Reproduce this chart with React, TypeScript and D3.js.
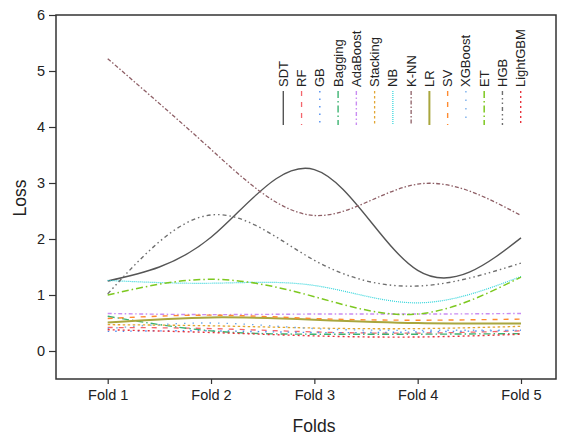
import React, { useEffect, useRef } from "react";
import * as d3 from "d3";

const folds = ["Fold 1", "Fold 2", "Fold 3", "Fold 4", "Fold 5"];
const yTicks = [0, 1, 2, 3, 4, 5, 6];

const models = ["SDT", "RF", "GB", "Bagging", "AdaBoost", "Stacking", "NB", "K-NN", "LR", "SV", "XGBoost", "ET", "HGB", "LightGBM"];

const SDT = [1.25, 2.03, 3.24, 1.44, 2.02];
const RF = [0.42, 0.4, 0.34, 0.32, 0.36];
const GB = [0.35, 0.36, 0.33, 0.34, 0.37];
const Bagging = [0.62, 0.36, 0.3, 0.3, 0.31];
const AdaBoost = [0.67, 0.65, 0.66, 0.66, 0.67];
const Stacking = [0.47, 0.45, 0.41, 0.4, 0.44];
const NB = [1.26, 1.21, 1.17, 0.86, 1.33];
const KNN = [5.22, 3.6, 2.42, 2.98, 2.42];
const LR = [0.51, 0.6, 0.56, 0.5, 0.49];
const SV = [0.58, 0.64, 0.58, 0.55, 0.57];
const XGBoost = [0.4, 0.5, 0.4, 0.37, 0.37];
const ET = [1.0, 1.28, 0.97, 0.66, 1.32];
const HGB = [1.02, 2.43, 1.62, 1.16, 1.57];
const LightGBM = [0.38, 0.33, 0.27, 0.25, 0.3];

const seriesValues = [SDT, RF, GB, Bagging, AdaBoost, Stacking, NB, KNN, LR, SV, XGBoost, ET, HGB, LightGBM];

const colors = ["#555555", "#F4656C", "#4F8DF0", "#3CB371", "#C98CF2", "#E2A631", "#2FD4DA", "#8E5F66", "#A9A63E", "#FF8A30", "#6EA8EA", "#7DC820", "#6E6E6E", "#E8323C"];
const dashes = ["", "5,6", "1.5,6", "7,3,1.5,3", "4,2.5,1.5,2.5", "2.5,2.5", "1,1", "4,2,1.5,2", "", "5,6", "1.5,7", "7,3,1.5,3", "4,3,1.5,3,1.5,3", "2,3"];
const widths = [1.4, 1.3, 1.4, 1.4, 1.4, 1.3, 1.2, 1.3, 2.0, 1.4, 1.3, 1.5, 1.4, 1.4];

export default function App() {
  const ref = useRef<SVGSVGElement>(null);

  useEffect(() => {
    const svg = d3.select(ref.current);
    svg.selectAll("*").remove();
    const left = 56, right = 556, top = 15, bottom = 379;
    const x = d3.scalePoint<string>().domain(folds).range([107.7, 521]);
    const y = d3.scaleLinear().domain([-0.5, 6]).range([bottom, top]);
    const font = "'Liberation Sans', Arial, sans-serif";

    const line = d3
      .line<number>()
      .x((_, i) => x(folds[i]) as number)
      .y((d) => y(d))
      .curve(d3.curveNatural);

    const g = svg.append("g");
    seriesValues.forEach((vals, i) => {
      g.append("path")
        .attr("d", line(vals) as string)
        .attr("fill", "none")
        .attr("stroke", colors[i])
        .attr("stroke-width", widths[i])
        .attr("stroke-dasharray", dashes[i] || null);
    });

    svg
      .append("rect")
      .attr("x", left)
      .attr("y", top)
      .attr("width", right - left)
      .attr("height", bottom - top)
      .attr("fill", "none")
      .attr("stroke", "#333")
      .attr("stroke-width", 1.5);

    const ya = svg
      .append("g")
      .attr("transform", `translate(${left},0)`)
      .call(d3.axisLeft(y).tickValues(yTicks).tickSize(7).tickPadding(4).tickFormat(d3.format("d")));
    ya.select(".domain").remove();
    ya.selectAll("line").attr("stroke", "#333").attr("stroke-width", 1.2);
    ya.selectAll("text").attr("font-family", font).attr("font-size", 14.5).attr("fill", "#222");

    const xa = svg
      .append("g")
      .attr("transform", `translate(0,${bottom})`)
      .call(d3.axisBottom(x).tickSize(5).tickPadding(6));
    xa.select(".domain").remove();
    xa.selectAll("line").attr("stroke", "#333").attr("stroke-width", 1.2);
    xa.selectAll("text").attr("font-family", font).attr("font-size", 14.5).attr("fill", "#222");

    svg
      .append("text")
      .attr("x", 314)
      .attr("y", 432)
      .attr("text-anchor", "middle")
      .attr("font-family", font)
      .attr("font-size", 17.5)
      .attr("fill", "#222")
      .text("Folds");
    svg
      .append("text")
      .attr("transform", `translate(26,198) rotate(-90)`)
      .attr("text-anchor", "middle")
      .attr("font-family", font)
      .attr("font-size", 17.5)
      .attr("fill", "#222")
      .text("Loss");

    const lx = d3.scalePoint<string>().domain(models).range([283.3, 520.7]);
    const leg = svg.append("g");
    models.forEach((m, i) => {
      const cx = lx(m) as number;
      leg
        .append("text")
        .attr("transform", `translate(${cx + 4.5},87) rotate(-90)`)
        .attr("font-family", font)
        .attr("font-size", 13)
        .attr("fill", "#222")
        .text(m);
      leg
        .append("line")
        .attr("x1", cx)
        .attr("x2", cx)
        .attr("y1", 91)
        .attr("y2", 125)
        .attr("stroke", colors[i])
        .attr("stroke-width", widths[i])
        .attr("stroke-dasharray", dashes[i] || null);
    });
  }, []);

  return <svg ref={ref} width={570} height={436} style={{ position: "absolute", left: 0, top: 0, background: "#fff" }} />;
}
